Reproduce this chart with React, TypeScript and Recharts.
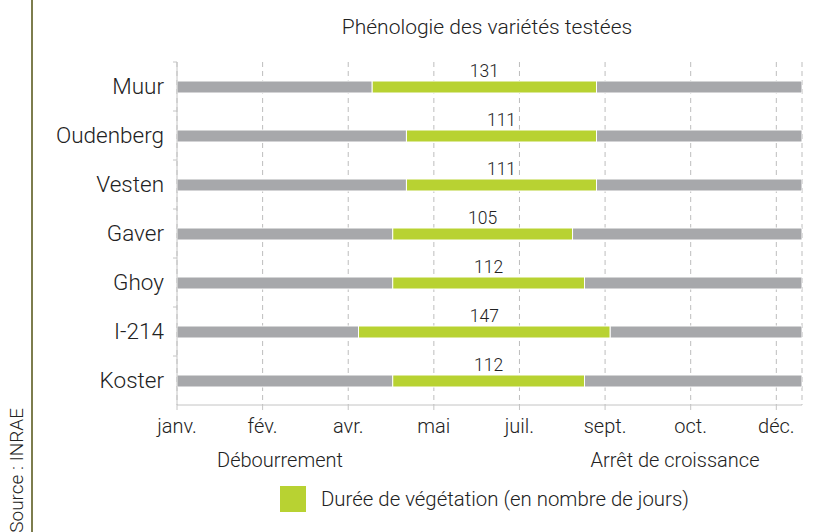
import { BarChart, Bar, XAxis, YAxis, CartesianGrid, LabelList } from "recharts";

const varieties = ["Muur", "Oudenberg", "Vesten", "Gaver", "Ghoy", "I-214", "Koster"];
const budburst = [114, 134, 134, 126, 126, 106, 126];
const duration = [131, 111, 111, 105, 112, 147, 112];
const rest = [120, 120, 120, 134, 127, 112, 127];

const dayTicks = [0, 50, 100, 150, 200, 250, 300, 350];
const monthLabels = ["janv.", "fév.", "avr.", "mai", "juil.", "sept.", "oct.", "déc."];

const data = varieties.map((name, i) => ({
  name,
  start: budburst[i],
  veg: duration[i],
  rest: rest[i],
}));

const FONT = "Roboto, 'Noto Sans', sans-serif";
const W = 300;
const TXT = "#222";
const GREEN = "#b8d232";
const GREY = "#a7a8ab";

function YTick(props: any) {
  const { x, y, payload } = props;
  return (
    <g>
      <text x={x} y={y} dy="0.35em" textAnchor="end" fontSize={22.5} fontWeight={W} fill={TXT} fontFamily={FONT}>
        {payload.value}
      </text>
      <line x1={x + 9} x2={x + 13} y1={y - 24.5} y2={y - 24.5} stroke="#c4c4c4" />
    </g>
  );
}

const textStyle = { position: "absolute" as const, fontFamily: FONT, fontWeight: W, color: TXT, whiteSpace: "nowrap" as const };

export default function App() {
  return (
    <div style={{ position: "absolute", left: 0, top: 0, width: 831, height: 532, background: "#fff", overflow: "hidden" }}>
      <div style={{ position: "absolute", left: 31, top: 0, width: 2, height: 532, background: "#7d7d4e" }} />
      <div
        style={{
          ...textStyle,
          left: 6,
          top: 408,
          fontSize: 19,
          transform: "rotate(-90deg) translateX(-100%)",
          transformOrigin: "0 0",
          lineHeight: "22px",
        }}
      >
        Source : INRAE
      </div>
      <div style={{ ...textStyle, left: 187, width: 600, top: 15, textAlign: "center", fontSize: 21 }}>
        Phénologie des variétés testées
      </div>
      <div style={{ ...textStyle, left: 180, width: 200, top: 448, textAlign: "center", fontSize: 20 }}>
        Débourrement
      </div>
      <div style={{ ...textStyle, left: 575, width: 200, top: 448, textAlign: "center", fontSize: 20 }}>
        Arrêt de croissance
      </div>
      <div style={{ ...textStyle, left: 280, top: 486, display: "flex", alignItems: "center", fontSize: 20.4 }}>
        <span style={{ width: 26, height: 26, background: GREEN, display: "inline-block", marginRight: 15 }} />
        Durée de végétation (en nombre de jours)
      </div>
      <BarChart
        width={831}
        height={532}
        data={data}
        layout="vertical"
        margin={{ top: 62, right: 29, bottom: 97, left: 0 }}
        barCategoryGap={0}
      >
        <CartesianGrid horizontal={false} vertical strokeDasharray="5 4" stroke="#bdbdbd" />
        <XAxis
          type="number"
          domain={[0, 365]}
          ticks={dayTicks}
          tickFormatter={(v: number) => monthLabels[dayTicks.indexOf(v)]}
          height={30}
          stroke="#c4c4c4"
          tickSize={5}
          tickMargin={9}
          tick={{ fill: TXT, fontSize: 20, fontWeight: W, fontFamily: FONT }}
          allowDataOverflow
        />
        <YAxis
          type="category"
          dataKey="name"
          width={177}
          stroke="#c4c4c4"
          tickLine={false}
          tickSize={5}
          tickMargin={8}
          tick={<YTick />}
        />
        <Bar dataKey="start" stackId="a" fill={GREY} stroke="#fff" strokeWidth={1} barSize={12} isAnimationActive={false} />
        <Bar dataKey="veg" stackId="a" fill={GREEN} stroke="#fff" strokeWidth={1} barSize={12} isAnimationActive={false}>
          <LabelList dataKey="veg" position="top" offset={4} fill={TXT} fontSize={17.5} fontWeight={W} fontFamily={FONT} />
        </Bar>
        <Bar dataKey="rest" stackId="a" fill={GREY} stroke="#fff" strokeWidth={1} barSize={12} isAnimationActive={false} />
      </BarChart>
    </div>
  );
}
